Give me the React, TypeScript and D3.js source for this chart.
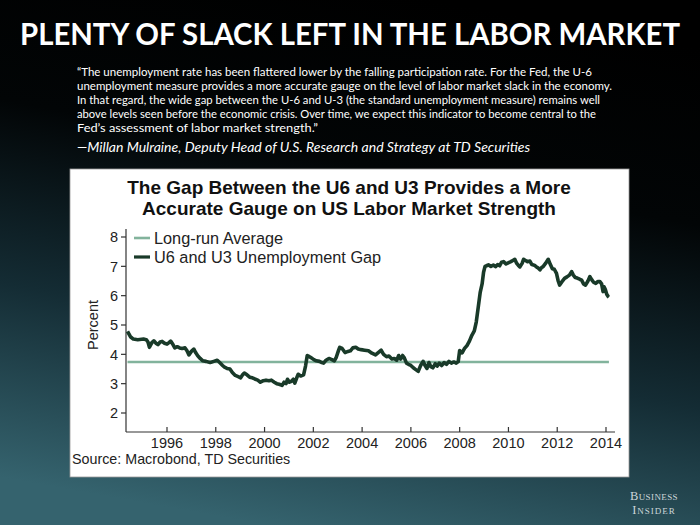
import React from "react";
import * as d3 from "d3";

const headline = "PLENTY OF SLACK LEFT IN THE LABOR MARKET";
const quoteLines = [
  "\u201CThe unemployment rate has been flattered lower by the falling participation rate. For the Fed, the U-6",
  "unemployment measure provides a more accurate gauge on the level of labor market slack in the economy.",
  "In that regard, the wide gap between the U-6 and U-3 (the standard unemployment measure) remains well",
  "above levels seen before the economic crisis. Over time, we expect this indicator to become central to the",
  "Fed\u2019s assessment of labor market strength.\u201D",
];
const quoteWidths = [515, 535, 523, 519, 241];
const attribution = "\u2014Millan Mulraine, Deputy Head of U.S. Research and Strategy at TD Securities";
const chartTitle = ["The Gap Between the U6 and U3 Provides a More", "Accurate Gauge on US Labor Market Strength"];
const legendLabels = ["Long-run Average", "U6 and U3 Unemployment Gap"];
const sourceText = "Source: Macrobond, TD Securities";
const yTicks = [2, 3, 4, 5, 6, 7, 8];
const xTicks = [1996, 1998, 2000, 2002, 2004, 2006, 2008, 2010, 2012, 2014];
const longRunAverage = 3.74;

const dates = [
  1994.38, 1994.5, 1994.62, 1994.8, 1995.04, 1995.15, 1995.22, 1995.28, 1995.38, 1995.46,
  1995.55, 1995.63, 1995.72, 1995.8, 1995.9, 1996.0, 1996.08, 1996.15, 1996.24, 1996.32,
  1996.42, 1996.52, 1996.62, 1996.74, 1996.82, 1996.9, 1997.0, 1997.1, 1997.18, 1997.26,
  1997.36, 1997.47, 1997.6, 1997.77, 1997.92, 1998.06, 1998.16, 1998.28, 1998.36, 1998.46,
  1998.58, 1998.68, 1998.8, 1998.92, 1999.02, 1999.1, 1999.17, 1999.28, 1999.39, 1999.5,
  1999.6, 1999.72, 1999.83, 1999.95, 2000.06, 2000.18, 2000.28, 2000.4, 2000.5, 2000.6,
  2000.72, 2000.8, 2000.88, 2000.94, 2001.02, 2001.1, 2001.18, 2001.24, 2001.32, 2001.38,
  2001.48, 2001.6, 2001.68, 2001.75, 2001.84, 2001.92, 2002.02, 2002.12, 2002.25, 2002.35,
  2002.42, 2002.52, 2002.64, 2002.76, 2002.86, 2002.94, 2003.02, 2003.08, 2003.18, 2003.3,
  2003.42, 2003.52, 2003.62, 2003.74, 2003.84, 2003.96, 2004.1, 2004.26, 2004.4, 2004.55,
  2004.66, 2004.78, 2004.88, 2005.0, 2005.1, 2005.22, 2005.32, 2005.42, 2005.5, 2005.58,
  2005.66, 2005.73, 2005.82, 2005.9, 2006.0, 2006.1, 2006.2, 2006.3, 2006.4, 2006.5,
  2006.58, 2006.66, 2006.74, 2006.82, 2006.9, 2007.0, 2007.08, 2007.16, 2007.26, 2007.36,
  2007.46, 2007.56, 2007.66, 2007.76, 2007.86, 2007.94, 2008.0, 2008.1, 2008.2, 2008.3,
  2008.4, 2008.5, 2008.6, 2008.68, 2008.76, 2008.84, 2008.92, 2008.98, 2009.04, 2009.1,
  2009.18, 2009.28, 2009.38, 2009.48, 2009.56, 2009.64, 2009.72, 2009.8, 2009.9, 2009.99,
  2010.1, 2010.18, 2010.26, 2010.34, 2010.4, 2010.47, 2010.56, 2010.62, 2010.7, 2010.78,
  2010.88, 2010.96, 2011.06, 2011.15, 2011.22, 2011.29, 2011.36, 2011.42, 2011.52, 2011.63,
  2011.72, 2011.8, 2011.88, 2011.97, 2012.04, 2012.1, 2012.18, 2012.3, 2012.4, 2012.5,
  2012.59, 2012.66, 2012.74, 2012.82, 2012.92, 2013.0, 2013.08, 2013.16, 2013.26, 2013.34,
  2013.42, 2013.5, 2013.58, 2013.66, 2013.75, 2013.82, 2013.88, 2013.92, 2013.97, 2014.03,
  2014.09, 2014.12,
];
const gapValues = [
  4.78, 4.6, 4.52, 4.5, 4.52, 4.5, 4.42, 4.24, 4.4, 4.46,
  4.38, 4.33, 4.42, 4.44, 4.38, 4.35, 4.4, 4.45, 4.34, 4.22,
  4.26, 4.22, 4.2, 4.22, 4.12, 3.98, 4.1, 4.18, 4.05, 3.95,
  3.86, 3.78, 3.76, 3.72, 3.76, 3.8, 3.72, 3.62, 3.56, 3.52,
  3.5, 3.38, 3.28, 3.24, 3.2, 3.3, 3.36, 3.3, 3.22, 3.2,
  3.16, 3.12, 3.05, 3.1, 3.12, 3.1, 3.12, 3.05, 3.0, 2.98,
  2.94, 3.05, 3.0, 3.15, 3.05, 3.08, 3.15, 3.02, 3.2, 3.32,
  3.26, 3.3, 3.6, 3.96, 3.92, 3.88, 3.82, 3.78, 3.76, 3.72,
  3.7, 3.8, 3.86, 3.82, 3.78, 3.9, 4.1, 4.24, 4.2, 4.06,
  4.1, 4.12, 4.22, 4.24, 4.18, 4.16, 4.14, 4.12, 4.04, 3.98,
  4.06, 4.14, 4.0, 3.92, 3.94, 3.84, 3.86, 3.8, 3.96, 3.84,
  3.96, 3.88, 3.7, 3.66, 3.62, 3.54, 3.48, 3.42, 3.62, 3.76,
  3.62, 3.52, 3.72, 3.58, 3.54, 3.68, 3.6, 3.7, 3.62, 3.72,
  3.66, 3.76, 3.7, 3.74, 3.7, 3.75, 4.13, 4.05, 4.2, 4.3,
  4.45, 4.65, 4.8, 5.1, 5.6, 6.1, 6.4, 6.8, 7.0, 7.02,
  7.05, 7.0, 7.04, 6.99, 7.06, 7.02, 7.14, 7.16, 7.08, 7.12,
  7.16, 7.2, 7.24, 7.1, 7.04, 6.98, 7.1, 7.24, 7.2, 7.16,
  7.18, 7.06, 7.04, 6.98, 6.94, 6.88, 6.96, 6.99, 7.1, 7.24,
  7.06, 6.92, 6.9, 6.76, 6.5, 6.36, 6.46, 6.59, 6.64, 6.7,
  6.82, 6.7, 6.62, 6.6, 6.56, 6.53, 6.4, 6.36, 6.5, 6.65,
  6.54, 6.45, 6.42, 6.48, 6.48, 6.4, 6.14, 6.3, 6.22, 6.05,
  5.97, 5.95,
];

const DARK = "#193a29";
const LIGHT = "#82b39c";
const SANS = "'Liberation Sans', Arial, sans-serif";

export default function App() {
  const x = d3.scaleLinear().domain([1996, 2014]).range([167, 606]);
  const y = d3.scaleLinear().domain([2, 8]).range([413, 237]);
  const axisLeft = 126;
  const axisBottom = 432;
  const axisRight = 615;
  const axisTop = 229;

  const pts: [number, number][] = dates.map((d, i) => [d, gapValues[i]]);
  const line = d3
    .line<[number, number]>()
    .x((d) => x(d[0]))
    .y((d) => y(d[1]))
    .curve(d3.curveLinear);

  const first = dates[0];
  const last = dates[dates.length - 1];

  return (
    <svg
      width={700}
      height={525}
      viewBox="0 0 700 525"
      style={{ position: "fixed", left: 0, top: 0, display: "block" }}
    >
      <defs>
        <linearGradient id="bg" x1="0.62" y1="0" x2="0.38" y2="1">
          <stop offset="0" stopColor="#000000" />
          <stop offset="0.32" stopColor="#020506" />
          <stop offset="0.65" stopColor="#142c34" />
          <stop offset="1" stopColor="#35636e" />
        </linearGradient>
      </defs>
      <rect x={0} y={0} width={700} height={525} fill="url(#bg)" />

      <text
        x={350}
        y={45}
        textAnchor="middle"
        fill="#ffffff"
        fontFamily="Lato, 'Open Sans', sans-serif"
        fontWeight={700}
        fontSize={30}
        textLength={660}
        lengthAdjust="spacingAndGlyphs"
      >
        {headline}
      </text>

      {quoteLines.map((t, i) => (
        <text
          key={i}
          x={77}
          y={76 + i * 14}
          fill="#ffffff"
          fontFamily="Lato, 'Open Sans', sans-serif"
          fontSize={12}
          textLength={quoteWidths[i]}
          lengthAdjust="spacingAndGlyphs"
        >
          {t}
        </text>
      ))}
      <text
        x={77}
        y={152}
        fill="#ffffff"
        fontFamily="Lato, 'Open Sans', sans-serif"
        fontStyle="italic"
        fontSize={13.5}
        textLength={453}
        lengthAdjust="spacingAndGlyphs"
      >
        {attribution}
      </text>

      <rect x={70} y={169} width={559} height={308} fill="#ffffff" stroke="#9a9a9a" strokeWidth={0.8} />

      {chartTitle.map((t, i) => (
        <text
          key={i}
          x={349}
          y={194 + i * 21}
          textAnchor="middle"
          fontFamily={SANS}
          fontWeight={700}
          fontSize={19}
          fill="#111"
        >
          {t}
        </text>
      ))}

      {/* axes */}
      <line x1={axisLeft} y1={axisTop} x2={axisLeft} y2={axisBottom} stroke="#333" strokeWidth={1.2} />
      <line x1={axisLeft} y1={axisBottom} x2={axisRight} y2={axisBottom} stroke="#333" strokeWidth={1.2} />
      {yTicks.map((t) => (
        <g key={t}>
          <line x1={axisLeft - 5} x2={axisLeft} y1={y(t)} y2={y(t)} stroke="#333" strokeWidth={1.2} />
          <text
            x={axisLeft - 8}
            y={y(t)}
            dy="0.36em"
            textAnchor="end"
            fontFamily={SANS}
            fontSize={14.5}
            fill="#222"
          >
            {t}
          </text>
        </g>
      ))}
      {xTicks.map((t) => (
        <g key={t}>
          <line x1={x(t)} x2={x(t)} y1={axisBottom} y2={axisBottom - 5} stroke="#333" strokeWidth={1.2} />
          <text
            x={x(t)}
            y={axisBottom + 16}
            textAnchor="middle"
            fontFamily={SANS}
            fontSize={14.5}
            fill="#222"
          >
            {t}
          </text>
        </g>
      ))}
      <text
        transform={`translate(98,${y(5)}) rotate(-90)`}
        textAnchor="middle"
        fontFamily={SANS}
        fontSize={14.5}
        fill="#222"
      >
        Percent
      </text>

      {/* long-run average */}
      <line
        x1={x(first)}
        x2={x(last)}
        y1={y(longRunAverage)}
        y2={y(longRunAverage)}
        stroke={LIGHT}
        strokeWidth={2.6}
      />
      <path d={line(pts) || ""} fill="none" stroke={DARK} strokeWidth={3.6} strokeLinejoin="round" />

      {/* legend */}
      <line x1={134} x2={150} y1={238} y2={238} stroke={LIGHT} strokeWidth={2.6} />
      <text x={154} y={238} dy="0.36em" fontFamily={SANS} fontSize={16.3} fill="#222">
        {legendLabels[0]}
      </text>
      <line x1={134} x2={150} y1={257} y2={257} stroke={DARK} strokeWidth={3.2} />
      <text x={154} y={257} dy="0.36em" fontFamily={SANS} fontSize={16.3} fill="#222">
        {legendLabels[1]}
      </text>

      <text x={72} y={464} fontFamily={SANS} fontSize={14.3} fill="#222">
        {sourceText}
      </text>

      {/* logo */}
      <g fontFamily="'Liberation Serif', 'DejaVu Serif', serif" fill="#cdd6d9" fontSize={12.5}>
        <text x={654} y={500} textAnchor="middle" style={{ fontVariant: "small-caps" }} letterSpacing={0.4}>
          Business
        </text>
        <text x={654} y={514} textAnchor="middle" style={{ fontVariant: "small-caps" }} letterSpacing={1}>
          Insider
        </text>
      </g>
    </svg>
  );
}
